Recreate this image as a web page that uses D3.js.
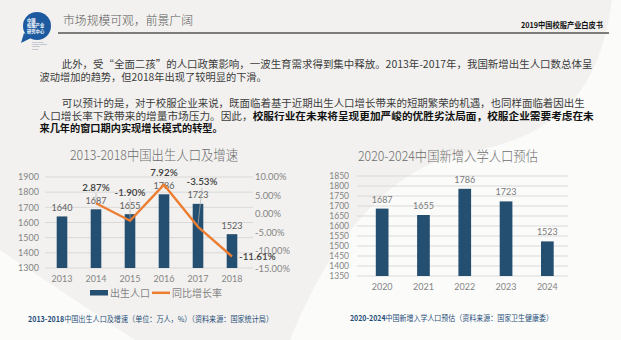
<!DOCTYPE html>
<html><head><meta charset="utf-8">
<script src="https://cdn.jsdelivr.net/npm/d3@7"></script>
<style>
html,body{margin:0;padding:0;background:#f2f1ef;}
svg{display:block;}
</style></head>
<body>
<svg id="c" width="621" height="340"></svg>
<script>
// ---------- data ----------
const birthYears = ["2013","2014","2015","2016","2017","2018"];
const birthValues = [1640, 1687, 1655, 1786, 1723, 1523];
const growthRates = [null, 2.87, -1.90, 7.92, -3.53, -11.61];
const leftTicks = [1300,1400,1500,1600,1700,1800,1900];
const rightTicks = [-15,-10,-5,0,5,10];

const schoolYears = ["2020","2021","2022","2023","2024"];
const schoolValues = [1687, 1655, 1786, 1723, 1523];
const schoolTicks = [1350,1400,1450,1500,1550,1600,1650,1700,1750,1800,1850];

const headerTitle = "市场规模可观，前景广阔";
const headerRight = "2019中国校服产业白皮书";
const leftTitle = "2013-2018中国出生人口及增速";
const rightTitle = "2020-2024中国新增入学人口预估";
const leftCaption = "2013-2018中国出生人口及增速（单位：万人，%）（资料来源：国家统计局）";
const rightCaption = "2020-2024中国新增入学人口预估（资料来源：国家卫生健康委）";
const legendLabels = ["出生人口", "同比增长率"];

// ---------- styles ----------
const BAR = "#254f70", ORANGE = "#ed7d31", GRID = "#d9d9d9", AXIS = "#858585";
const CJK = "'Noto Sans CJK SC','Noto Sans',sans-serif";
const NUM = "Lato,'Open Sans',sans-serif";

const svg = d3.select("#c");

// ---------- background ----------
svg.append("rect").attr("width",621).attr("height",340).attr("fill","#f2f1ef");
svg.append("path").attr("d","M612,0 C600,90 560,135 470,152 C390,165 330,240 290,340 L621,340 L621,0 Z").attr("fill","#fbfbfa");
svg.append("path").attr("d","M0,250 L135,340 L0,340 Z").attr("fill","#fbfbfa");

// ---------- header ----------
const logo = svg.append("g");
logo.append("path").attr("d","M24,33 L21,43 L31,38 Z").attr("fill","#1e5aa0");
logo.append("circle").attr("cx",37).attr("cy",26).attr("r",14).attr("fill","#1e5aa0");
[["中国",21.5],["校服产业",27.3],["研究中心",33.1]].forEach(([t,y])=>{
  logo.append("text").attr("x",27).attr("y",y).attr("font-size",4.3).attr("font-weight",700)
    .attr("fill","#fff").attr("font-family",CJK).text(t);
});
["China School","Uniform Industry","Research","Center"].forEach((t,i)=>{
  logo.append("text").attr("x",32).attr("y",43+i*2.2).attr("font-size",2).attr("fill","#7a8aa0")
    .attr("font-family",NUM).text(t);
});
svg.append("text").attr("x",63).attr("y",25).attr("font-size",12).attr("fill","#5a5a5a").attr("font-weight",300)
  .attr("font-family",CJK).attr("textLength",130).attr("lengthAdjust","spacingAndGlyphs").text(headerTitle);
svg.append("text").attr("x",521).attr("y",28).attr("font-size",7.6).attr("font-weight",700).attr("fill","#111")
  .attr("font-family",CJK).attr("textLength",82).attr("lengthAdjust","spacingAndGlyphs").text(headerRight);
svg.append("line").attr("x1",58).attr("x2",609).attr("y1",33).attr("y2",33).attr("stroke","#555").attr("stroke-width",1.3);

// ---------- body text ----------
const FS = 9.9;
function bodyLine(x, y, parts, target){
  const t = svg.append("text").attr("x",x).attr("y",y).attr("font-size",FS).attr("font-family",CJK);
  parts.forEach(([s,b])=>{
    t.append("tspan").attr("font-weight",b?700:400).attr("fill",b?"#111":"#3c3c3c").text(s);
  });
  if(target){
    const w = t.node().getComputedTextLength();
    t.attr("transform",`translate(${x},0) scale(${target/w},1) translate(${-x},0)`);
  }
}
bodyLine(61.7, 68, [["此外，受“全面二孩”的人口政策影响，一波生育需求得到集中释放。2013年-2017年，我国新增出生人口数总体呈",false]], 530);
bodyLine(39.5, 81.5, [["波动增加的趋势，但2018年出现了较明显的下滑。",false]], 227);
bodyLine(61.7, 107.3, [["可以预计的是，对于校服企业来说，既面临着基于近期出生人口增长带来的短期繁荣的机遇，也同样面临着因出生",false]], 523);
bodyLine(39.5, 119.8, [["人口增长率下跌带来的增量市场压力。因此，",false],["校服行业在未来将呈现更加严峻的优胜劣汰局面，校服企业需要考虑在未",true]], 553.5);
bodyLine(39.5, 132.3, [["来几年的窗口期内实现增长模式的转型。",true]], 183);

// ---------- left chart ----------
const gL = svg.append("g");
const xL = d3.scalePoint().domain(birthYears).range([45,249]).padding(0.5);
const bwL = 10.6;
const yL = d3.scaleLinear().domain([1300,1900]).range([268,177]);
const yR = d3.scaleLinear().domain([-15,10]).range([269,177]);

gL.append("text").attr("x",154).attr("y",160).attr("text-anchor","middle").attr("font-size",13.5).attr("font-weight",300)
  .attr("fill","#6e6e6e").attr("font-family",CJK).attr("textLength",168).attr("lengthAdjust","spacingAndGlyphs").text(leftTitle);

gL.selectAll(".gl").data(leftTicks).join("line")
  .attr("x1",45).attr("x2",253).attr("y1",d=>yL(d)).attr("y2",d=>yL(d))
  .attr("stroke",GRID).attr("stroke-width",1);
gL.selectAll(".tl").data(leftTicks).join("text")
  .attr("x",39).attr("y",d=>yL(d)+3.2).attr("text-anchor","end").attr("font-size",9)
  .attr("fill",AXIS).attr("font-family",NUM).text(d=>d);
gL.selectAll(".tr").data(rightTicks).join("text")
  .attr("x",255).attr("y",d=>yR(d)+3.4).attr("font-size",9.4)
  .attr("fill",AXIS).attr("font-family",NUM).text(d=>d.toFixed(2)+"%");

gL.selectAll(".bar").data(birthValues).join("rect")
  .attr("x",(d,i)=>xL(birthYears[i])-bwL/2).attr("width",bwL)
  .attr("y",d=>yL(d)).attr("height",d=>yL(1300)-yL(d)).attr("fill",BAR);
gL.selectAll(".xl").data(birthYears).join("text")
  .attr("x",d=>xL(d)).attr("y",281.5).attr("text-anchor","middle").attr("font-size",9)
  .attr("fill",AXIS).attr("font-family",NUM).text(d=>d);
gL.selectAll(".vl").data(birthValues).join("text")
  .attr("x",(d,i)=>xL(birthYears[i])).attr("y",d=>yL(d)-5.5).attr("text-anchor","middle").attr("font-size",9)
  .attr("fill","#606060").attr("font-family",NUM).text(d=>d);

// line
const pts = growthRates.map((v,i)=>({v, x:xL(birthYears[i])}));
gL.append("path").datum(pts)
  .attr("d", d3.line().defined(d=>d.v!==null).x(d=>d.x).y(d=>yR(d.v)))
  .attr("fill","none").attr("stroke",ORANGE).attr("stroke-width",2.4).attr("stroke-linejoin","round");

// percent labels
const last = growthRates.length-1;
pts.forEach((p,i)=>{
  if(p.v===null) return;
  const py = yR(p.v);
  if(i===last){
    gL.append("text").attr("x",p.x+7).attr("y",py+3.5).attr("font-size",9.8).attr("font-weight",600)
      .attr("fill","#404040").attr("font-family",NUM).text(p.v.toFixed(2)+"%");
    return;
  }
  const ly = yL(birthValues[i]) - 22;
  const tx = i===4 ? p.x+4 : p.x;
  if(py - ly > 14.5){
    gL.append("line").attr("x1",tx).attr("y1",ly+6).attr("x2",p.x).attr("y2",py-2)
      .attr("stroke","#b0b0b0").attr("stroke-width",0.7);
  }
  gL.append("text").attr("x",tx).attr("y",ly+3.5).attr("text-anchor","middle").attr("font-size",9.8).attr("font-weight",600)
    .attr("fill","#404040").attr("font-family",NUM).text(p.v.toFixed(2)+"%");
});

// legend
gL.append("rect").attr("x",90).attr("y",290).attr("width",18).attr("height",5.5).attr("fill",BAR);
gL.append("text").attr("x",110).attr("y",296.5).attr("font-size",10).attr("fill",AXIS).attr("font-family",CJK).text(legendLabels[0]);
gL.append("line").attr("x1",152).attr("x2",170).attr("y1",292.8).attr("y2",292.8).attr("stroke",ORANGE).attr("stroke-width",2.5);
gL.append("text").attr("x",172).attr("y",296.5).attr("font-size",10).attr("fill",AXIS).attr("font-family",CJK).text(legendLabels[1]);

// caption
const capL = svg.append("text").attr("x",28).attr("y",322).attr("font-size",8).attr("font-family",CJK)
  .attr("textLength",245).attr("lengthAdjust","spacingAndGlyphs").attr("fill","#1f4e79");
capL.append("tspan").attr("font-weight",700).text(leftCaption.slice(0,9));
capL.append("tspan").text(leftCaption.slice(9));

// ---------- right chart ----------
const gR = svg.append("g");
const xR = d3.scalePoint().domain(schoolYears).range([361.5,568]).padding(0.5);
const bwR = 12.7;
const yS = d3.scaleLinear().domain([1350,1850]).range([276,176]);

gR.append("text").attr("x",448).attr("y",161).attr("text-anchor","middle").attr("font-size",13.5).attr("font-weight",300)
  .attr("fill","#6e6e6e").attr("font-family",CJK).attr("textLength",180).attr("lengthAdjust","spacingAndGlyphs").text(rightTitle);

gR.selectAll(".g").data(schoolTicks).join("line")
  .attr("x1",357).attr("x2",568).attr("y1",d=>yS(d)).attr("y2",d=>yS(d))
  .attr("stroke",GRID).attr("stroke-width",1.1);
gR.selectAll(".t").data(schoolTicks).join("text")
  .attr("x",349).attr("y",d=>yS(d)+3).attr("text-anchor","end").attr("font-size",8.5)
  .attr("fill",AXIS).attr("font-family",NUM).text(d=>d);
gR.selectAll(".bar").data(schoolValues).join("rect")
  .attr("x",(d,i)=>xR(schoolYears[i])-bwR/2).attr("width",bwR)
  .attr("y",d=>yS(d)).attr("height",d=>yS(1350)-yS(d)).attr("fill",BAR);
gR.selectAll(".xl").data(schoolYears).join("text")
  .attr("x",d=>xR(d)).attr("y",290).attr("text-anchor","middle").attr("font-size",9)
  .attr("fill",AXIS).attr("font-family",NUM).text(d=>d);
gR.selectAll(".vl").data(schoolValues).join("text")
  .attr("x",(d,i)=>xR(schoolYears[i])).attr("y",d=>yS(d)-6).attr("text-anchor","middle").attr("font-size",9)
  .attr("fill","#7a7a7a").attr("font-family",NUM).text(d=>d);

const capR = svg.append("text").attr("x",350).attr("y",321).attr("font-size",8).attr("font-family",CJK)
  .attr("textLength",203).attr("lengthAdjust","spacingAndGlyphs").attr("fill","#1f4e79");
capR.append("tspan").attr("font-weight",700).text(rightCaption.slice(0,9));
capR.append("tspan").text(rightCaption.slice(9));
</script>
</body></html>
